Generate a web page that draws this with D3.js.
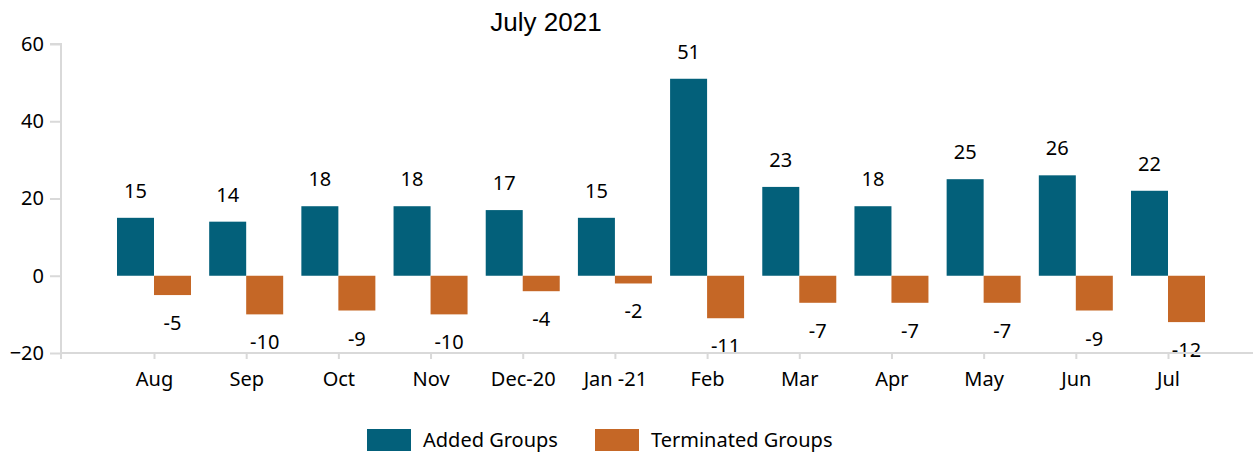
<!DOCTYPE html>
<html>
<head>
<meta charset="utf-8">
<script src="https://cdn.jsdelivr.net/npm/d3@7"></script>
<style>
  body { margin: 0; background: #fff; }
  text { font-family: "Noto Sans", "Open Sans", sans-serif; fill: #000; }
</style>
</head>
<body>
<div id="chart"></div>
<script>
const months = ["Aug", "Sep", "Oct", "Nov", "Dec-20", "Jan -21", "Feb", "Mar", "Apr", "May", "Jun", "Jul"];
const added = [15, 14, 18, 18, 17, 15, 51, 23, 18, 25, 26, 22];
const terminated = [-5, -10, -9, -10, -4, -2, -11, -7, -7, -7, -9, -12];
const yTicks = [-20, 0, 20, 40, 60];
const seriesNames = ["Added Groups", "Terminated Groups"];
const colors = ["#03607a", "#c56726"];

const W = 1253, H = 453;
const AXIS_X = 61, AXIS_RIGHT = 1253;
const barW = 37;
const FS = "20px";

const svg = d3.select("#chart").append("svg")
    .attr("width", W).attr("height", H);

// scales
const y = d3.scaleLinear().domain([-20, 60]).range([353, 44]);
const x = d3.scalePoint().domain(months).range([154, 1168]);

// title
svg.append("text")
    .attr("x", 546).attr("y", 31)
    .attr("text-anchor", "middle")
    .style("font-family", "'Liberation Sans', Arial, sans-serif")
    .style("font-size", "26px")
    .text("July 2021");

// y axis
const yAxis = svg.append("g")
    .attr("transform", `translate(${AXIS_X},0)`)
    .call(d3.axisLeft(y).tickValues(yTicks).tickSize(11).tickPadding(6));
yAxis.selectAll("path, line").attr("stroke", "#d9d9d9").attr("stroke-width", 2);
yAxis.select(".domain").attr("d", `M-11,${y(60)}H0V${y(-20)}`);
yAxis.selectAll("text").style("font-size", FS).attr("fill", "#000");

// bars
const g = svg.append("g");
g.selectAll(".added").data(added).join("rect")
    .attr("x", (d, i) => x(months[i]) - barW)
    .attr("y", d => y(d))
    .attr("width", barW)
    .attr("height", d => y(0) - y(d))
    .attr("fill", colors[0]);
g.selectAll(".term").data(terminated).join("rect")
    .attr("x", (d, i) => x(months[i]))
    .attr("y", y(0))
    .attr("width", barW)
    .attr("height", d => y(d) - y(0))
    .attr("fill", colors[1]);

// value labels
g.selectAll(".lblA").data(added).join("text")
    .attr("x", (d, i) => x(months[i]) - barW / 2)
    .attr("y", d => y(d) - 20)
    .attr("text-anchor", "middle")
    .style("font-size", FS)
    .text(d => d);
g.selectAll(".lblT").data(terminated).join("text")
    .attr("x", (d, i) => x(months[i]) + barW / 2)
    .attr("y", d => y(d) + 35)
    .attr("text-anchor", "middle")
    .style("font-size", FS)
    .text(d => d);

// x axis
const xAxis = svg.append("g")
    .attr("transform", `translate(0,${y(-20)})`)
    .call(d3.axisBottom(x).tickSize(6).tickPadding(13));
xAxis.select(".domain").attr("d", `M${AXIS_X},0H${AXIS_RIGHT}`);
xAxis.append("line").attr("x1", AXIS_X).attr("x2", AXIS_X).attr("y1", 0).attr("y2", 6);
xAxis.selectAll("path, line").attr("stroke", "#d9d9d9").attr("stroke-width", 2);
xAxis.selectAll("text").style("font-size", FS).attr("fill", "#000");

// legend
const legend = svg.append("g");
const legendX = [367, 595];
seriesNames.forEach((name, i) => {
    legend.append("rect")
        .attr("x", legendX[i]).attr("y", 429)
        .attr("width", 44).attr("height", 22)
        .attr("fill", colors[i]);
    legend.append("text")
        .attr("x", legendX[i] + 56).attr("y", 447)
        .style("font-size", FS)
        .text(name);
});
</script>
</body>
</html>
